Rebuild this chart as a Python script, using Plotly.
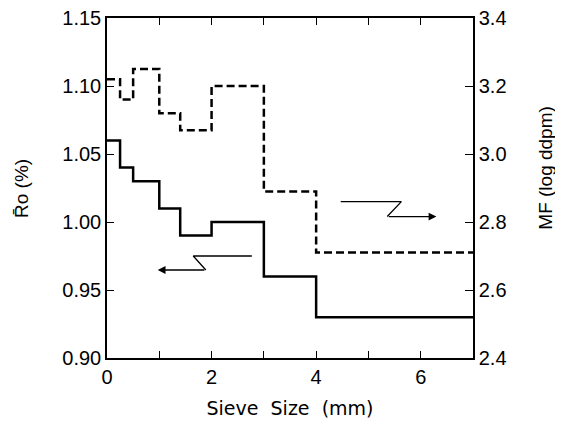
import plotly.graph_objects as go

# Data
sieve_edges = [0, 0.25, 0.5, 1.0, 1.4, 2.0, 3.0, 4.0, 7.0]
ro_values = [1.06, 1.04, 1.03, 1.01, 0.99, 1.00, 0.96, 0.93]
mf_values = [3.22, 3.16, 3.25, 3.12, 3.07, 3.20, 2.89, 2.71]
x_tickvals = [0, 1, 2, 3, 4, 5, 6, 7]
x_ticktext = ["0", "", "2", "", "4", "", "6", ""]
ro_ticks = [0.90, 0.95, 1.00, 1.05, 1.10, 1.15]
mf_ticks = [2.4, 2.6, 2.8, 3.0, 3.2, 3.4]

# Arrow paths (Z-shaped pointers)
ro_arrow_x = [2.77, 1.65, 1.89, 0.97]
ro_arrow_y = [0.975, 0.975, 0.9647, 0.9647]
mf_arrow_x = [4.47, 5.63, 5.36, 6.30]
mf_arrow_y = [2.86, 2.86, 2.816, 2.816]

FONT = "Liberation Sans"

fig = go.Figure()
fig.add_trace(go.Scatter(
    x=sieve_edges, y=ro_values + [ro_values[-1]], mode="lines",
    line=dict(shape="hv", color="black", width=2.5), yaxis="y", showlegend=False))
fig.add_trace(go.Scatter(
    x=sieve_edges, y=mf_values + [mf_values[-1]], mode="lines",
    line=dict(shape="hv", color="black", width=2.5, dash="8px,4px"), yaxis="y2", showlegend=False))

# pointer lines
fig.add_trace(go.Scatter(x=ro_arrow_x[:-1], y=ro_arrow_y[:-1], mode="lines",
                         line=dict(color="black", width=1.3), yaxis="y", showlegend=False, hoverinfo="skip"))
fig.add_trace(go.Scatter(x=mf_arrow_x[:-1], y=mf_arrow_y[:-1], mode="lines",
                         line=dict(color="black", width=1.3), yaxis="y2", showlegend=False, hoverinfo="skip"))

fig.add_annotation(x=ro_arrow_x[-1], y=ro_arrow_y[-1], ax=ro_arrow_x[-2], ay=ro_arrow_y[-2],
                   xref="x", yref="y", axref="x", ayref="y", text="", showarrow=True,
                   arrowhead=2, arrowsize=1.2, arrowwidth=1.3, arrowcolor="black")
fig.add_annotation(x=mf_arrow_x[-1], y=mf_arrow_y[-1], ax=mf_arrow_x[-2], ay=mf_arrow_y[-2],
                   xref="x", yref="y2", axref="x", ayref="y2", text="", showarrow=True,
                   arrowhead=2, arrowsize=1.2, arrowwidth=1.3, arrowcolor="black")

# axis titles as annotations
fig.add_annotation(text="R\u0304o (%)", xref="paper", yref="paper", x=-0.235, y=0.5,
                   xanchor="center", yanchor="middle",
                   textangle=-90, showarrow=False, font=dict(family=FONT, size=19, color="black"))
fig.add_annotation(text="MF (log ddpm)", xref="paper", yref="paper", x=1.197, y=0.56,
                   xanchor="center", yanchor="middle",
                   textangle=-90, showarrow=False, font=dict(family=FONT, size=19, color="black"))

# page body has an 8px margin, so the figure is sized/positioned to fit inside it
fig.update_layout(
    width=547, height=421,
    margin=dict(l=99, r=82, t=10, b=71, autoexpand=False),
    paper_bgcolor="white", plot_bgcolor="white",
    font=dict(family=FONT, size=20, color="black"),
    xaxis=dict(range=[0, 7], tickvals=x_tickvals, ticktext=x_ticktext,
               ticks="inside", ticklen=7, tickwidth=1.3, tickcolor="black",
               showline=True, linecolor="black", linewidth=1.5, mirror="ticks",
               showgrid=False, zeroline=False, automargin=False,
               title=dict(text="Sieve\u00a0\u00a0Size\u00a0\u00a0(mm)",
                          font=dict(family="DejaVu Sans", size=19), standoff=15)),
    yaxis=dict(range=[0.90, 1.15], tickvals=ro_ticks, tickformat=".2f",
               ticks="inside", ticklen=7, tickwidth=1.3, tickcolor="black",
               showline=True, linecolor="black", linewidth=1.5,
               showgrid=False, zeroline=False, automargin=False,
               ticklabeloverflow="allow"),
    yaxis2=dict(range=[2.4, 3.4], tickvals=mf_ticks, tickformat=".1f",
                overlaying="y", side="right",
                ticks="inside", ticklen=8, tickwidth=1.3, tickcolor="black",
                showline=True, linecolor="black", linewidth=1.5,
                showgrid=False, zeroline=False, automargin=False,
                ticklabeloverflow="allow"),
)

fig.write_html("out.html")
